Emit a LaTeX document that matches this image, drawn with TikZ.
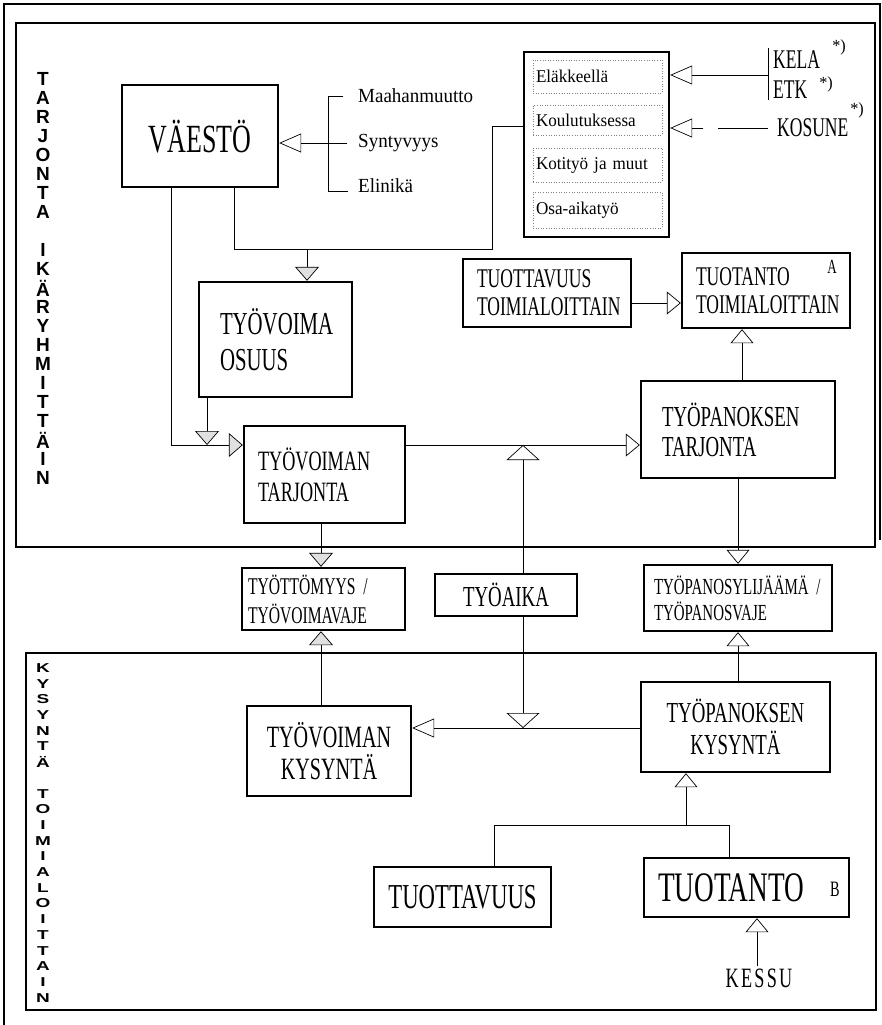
\documentclass[tikz,border=0pt]{standalone}
\usepackage{fontspec}
\usepackage{xcolor}
\usepackage{tikz}
\usetikzlibrary{arrows.meta}
\newfontfamily\boxfont[FakeStretch=0.65]{Liberation Serif}
\newfontfamily\labfont[FakeStretch=0.95]{Liberation Serif}
\newfontfamily\sidefont{Liberation Sans}
\hyphenpenalty=10000
\tikzstyle{block} = [rectangle, draw, line width = 2.4pt, inner sep = 0pt, align = center]
\tikzstyle{lblock} = [rectangle, draw, line width = 2.4pt, inner ysep = 0pt, align = left]
\tikzstyle{subblock} = [rectangle, draw = black!50, dotted, line width = 0.6pt, inner ysep = 0pt, inner xsep = 3pt, text width = 123pt, align = left, font = \labfont\fontsize{18}{22}\selectfont]
\tikzstyle{listtext} = [font = \labfont\fontsize{20}{24}\selectfont, inner sep = 1pt]
\tikzstyle{side} = [font = \sidefont\bfseries\fontsize{19}{19}\selectfont, inner sep = 0pt]
\tikzstyle{plain} = [line width = 0.7pt]
\tikzstyle{line} = [line width = 0.7pt, -{Triangle[open, length = 14pt, width = 23pt]}]
\tikzstyle{long} = [line width = 0.7pt, -{Triangle[open, length = 22pt, width = 19pt]}]
\tikzstyle{wide} = [line width = 0.7pt, -{Triangle[open, length = 15pt, width = 33pt]}]
\tikzstyle{shaded} = [line width = 0.7pt, -{Triangle[length = 14pt, width = 24pt, fill = black!12]}]
\tikzstyle{frame} = [line width = 2.6pt]

\begin{document}
\begin{tikzpicture}[x = 1pt, y = -1pt]
        \useasboundingbox (0,0) rectangle (882,1025);
        % kehykset
        \draw[frame] (4,1025) -- (4,4) -- (880,4) -- (880,540);
        \draw[frame] (16,23) rectangle (875,547);
        \draw[frame] (26,653) rectangle (876,1010);
        \foreach \ch [count = \i] in {T,A,R,J,O,N,T,A,,I,K,Ä,R,Y,H,M,I,T,T,Ä,I,N}
            \node (t\i) [side] at (43, {60 + 19*\i}) {\ch};
        \foreach \ch [count = \i] in {K,Y,S,Y,N,T,Ä,,T,O,I,M,I,A,L,O,I,T,T,A,I,N}
            \node (s\i) [side] at (43, {652.3 + 15.7*\i}) {\scalebox{1}[0.68]{\ch}};

        % tarjonta
        \node (vaesto) [block, minimum width = 156pt, minimum height = 102pt, text depth = 0pt, font = \boxfont\fontsize{40}{44}\selectfont] at (200,136) {VÄESTÖ};
        \node (maahan) [listtext, anchor = west] at (357,96) {Maahanmuutto};
        \node (synty) [listtext, anchor = west] at (357,143) {Syntyvyys};
        \node (elinika) [listtext, anchor = west] at (357,186) {Elinikä};
        \node (tila) [block, minimum width = 145pt, minimum height = 185pt] at (596.5,144.5) {};
        \node (elake) [subblock, minimum height = 33pt] at (597.5,76.5) {Eläkkeellä};
        \node (koulu) [subblock, minimum height = 30pt] at (597.5,120) {Koulutuksessa};
        \node (koti) [subblock, minimum height = 34pt] at (597.5,165) {Kotityö ja muut};
        \node (osa) [subblock, minimum height = 36pt] at (597.5,210) {Osa-aikatyö};
        \node (kela) [inner sep = 1pt, anchor = west, font = \boxfont\fontsize{27}{30}\selectfont] at (772,60) {KELA};
        \node (etk) [inner sep = 1pt, anchor = west, font = \boxfont\fontsize{27}{30}\selectfont] at (772,90) {ETK};
        \node (kosune) [inner sep = 1pt, anchor = west, font = \boxfont\fontsize{27}{30}\selectfont] at (776,128) {KOSUNE};
        \node (kelamerk) [inner sep = 0pt, font = \labfont\fontsize{17}{17}\selectfont] at (839,47) {*)};
        \node (etkmerk) [inner sep = 0pt, font = \labfont\fontsize{17}{17}\selectfont] at (826,84) {*)};
        \node (kosmerk) [inner sep = 0pt, font = \labfont\fontsize{17}{17}\selectfont] at (857,110) {*)};
        \node (osuus) [lblock, inner xsep = 21pt, text width = 111pt, minimum height = 115pt, font = \boxfont\fontsize{32}{36}\selectfont] at (275.5,339.5) {TYÖVOIMA\\OSUUS};
        \node (tuottavuusA) [lblock, inner xsep = 14pt, text width = 140pt, minimum height = 68pt, font = \boxfont\fontsize{27}{28}\selectfont] at (547,293) {TUOTTAVUUS\\TOIMIALOITTAIN};
        \node (tuotantoA) [lblock, inner xsep = 14pt, text width = 140pt, minimum height = 75pt, font = \boxfont\fontsize{27}{28}\selectfont] at (766,290.5) {TUOTANTO\\TOIMIALOITTAIN};
        \node (amerk) [inner sep = 0pt, font = \boxfont\fontsize{20}{20}\selectfont] at (832,267) {A};
        \node (tarjonta) [lblock, inner xsep = 14pt, text width = 133pt, minimum height = 97pt, font = \boxfont\fontsize{28}{31}\selectfont] at (324.5,474.5) {TYÖVOIMAN\\TARJONTA};
        \node (tptarjonta) [lblock, inner xsep = 21pt, text width = 152pt, minimum height = 97pt, font = \boxfont\fontsize{29}{30}\selectfont] at (738,429.5) {TYÖPANOKSEN\\TARJONTA};

        % välissä
        \node (tyottomyys) [lblock, inner xsep = 6pt, text width = 151pt, minimum height = 62pt, font = \boxfont\fontsize{24}{29}\selectfont] at (323.5,599) {TYÖTTÖMYYS /\\TYÖVOIMAVAJE};
        \node (tyoaika) [block, minimum width = 142pt, minimum height = 42pt, font = \boxfont\fontsize{29}{30}\selectfont] at (506,595) {TYÖAIKA};
        \node (tpylijaama) [lblock, inner xsep = 10pt, text width = 168pt, minimum height = 66pt, font = \boxfont\fontsize{23}{26}\selectfont] at (738,598) {TYÖPANOSYLIJÄÄMÄ /\\TYÖPANOSVAJE};

        % kysyntä
        \node (tvkysynta) [block, minimum width = 164pt, minimum height = 90pt, font = \boxfont\fontsize{31}{32}\selectfont] at (329,751) {TYÖVOIMAN\\KYSYNTÄ};
        \node (tpkysynta) [block, minimum width = 189pt, minimum height = 90pt, font = \boxfont\fontsize{29}{32}\selectfont] at (735.5,727) {TYÖPANOKSEN\\KYSYNTÄ};
        \node (tuottavuus) [block, minimum width = 177pt, minimum height = 60pt, font = \boxfont\fontsize{35}{36}\selectfont] at (462.5,897) {TUOTTAVUUS};
        \node (tuotanto) [lblock, inner xsep = 14pt, text width = 177pt, minimum height = 59pt, font = \boxfont\fontsize{42}{44}\selectfont] at (746.5,887.5) {TUOTANTO};
        \node (bmerk) [inner sep = 0pt, font = \boxfont\fontsize{22}{22}\selectfont] at (835,889) {B};
        \node (kessu) [inner sep = 2pt, font = \boxfont\fontsize{28}{30}\selectfont\addfontfeature{LetterSpace = 8}] at (759,978) {KESSU};

        \coordinate (h1) at (328,96);
        \coordinate (h2) at (328,191);
        \coordinate (h3) at (343,96);
        \coordinate (h4) at (348,191);
        \coordinate (b1) at (768,48);
        \coordinate (b2) at (768,100);
        \coordinate (b3) at (768,75);
        \coordinate (k1) at (492,126);
        \coordinate (k2) at (492,249);
        \coordinate (k3) at (234,249);
        \coordinate (k4) at (307,249);
        \coordinate (k5) at (171,445);
        \coordinate (k6) at (207,445);
        \coordinate (k7) at (523,445);
        \coordinate (k8) at (523,728);
        \coordinate (k9) at (321,600);
        \coordinate (k10) at (729,825);
        \coordinate (k11) at (494,825);
        \coordinate (k12) at (686,825);
        \coordinate (k13) at (738,600);
        \coordinate (k14) at (742,350);
        \coordinate (k15) at (757,950);
        \coordinate (k16) at (650,303);

        \draw[plain] (h3) -- (h1) -- (h2) -- (h4);
        \draw[long] ([xshift = -10pt]synty.west) -- (vaesto.east |- synty.west);
        \draw[plain] (b1) -- (b2);
        \draw[long] (b3) -- (b3 -| tila.east);
        \draw[long, dash pattern = on 50pt off 15pt on 8pt off 0pt] ([xshift = -8pt]kosune.west) -- (kosune.west -| tila.east);
        \draw[plain] (k1 -| tila.west) -- (k1) -- (k2) -- (k3) -- (k3 |- vaesto.south);
        \draw[shaded] (k4) -- (k4 |- osuus.north);
        \draw[shaded] (k5 |- vaesto.south) -- (k5) -- (k5 -| tarjonta.west);
        \draw[shaded] (k6 |- osuus.south) -- (k6);
        \draw[line] (k5 -| tarjonta.east) -- (k5 -| tptarjonta.west);
        \draw[line] (k16 -| tuottavuusA.east) -- (k16 -| tuotantoA.west);
        \draw[line] (k14 |- tptarjonta.north) -- (k14 |- tuotantoA.south);
        \draw[wide] (k7 |- tyoaika.north) -- (k7);
        \draw[wide] (k8 |- tyoaika.south) -- (k8);
        \draw[long] (k8 -| tpkysynta.west) -- (k8 -| tvkysynta.east);
        \draw[shaded] (k9 |- tarjonta.south) -- (k9 |- tyottomyys.north);
        \draw[shaded] (k9 |- tvkysynta.north) -- (k9 |- tyottomyys.south);
        \draw[line] (k13 |- tptarjonta.south) -- (k13 |- tpylijaama.north);
        \draw[line] (k13 |- tpkysynta.north) -- (k13 |- tpylijaama.south);
        \draw[plain] (k10 |- tuotanto.north) -- (k10) -- (k11) -- (k11 |- tuottavuus.north);
        \draw[line] (k12) -- (k12 |- tpkysynta.south);
        \draw[line] (k15 |- kessu.north) -- (k15 |- tuotanto.south);
\end{tikzpicture}
\end{document}
